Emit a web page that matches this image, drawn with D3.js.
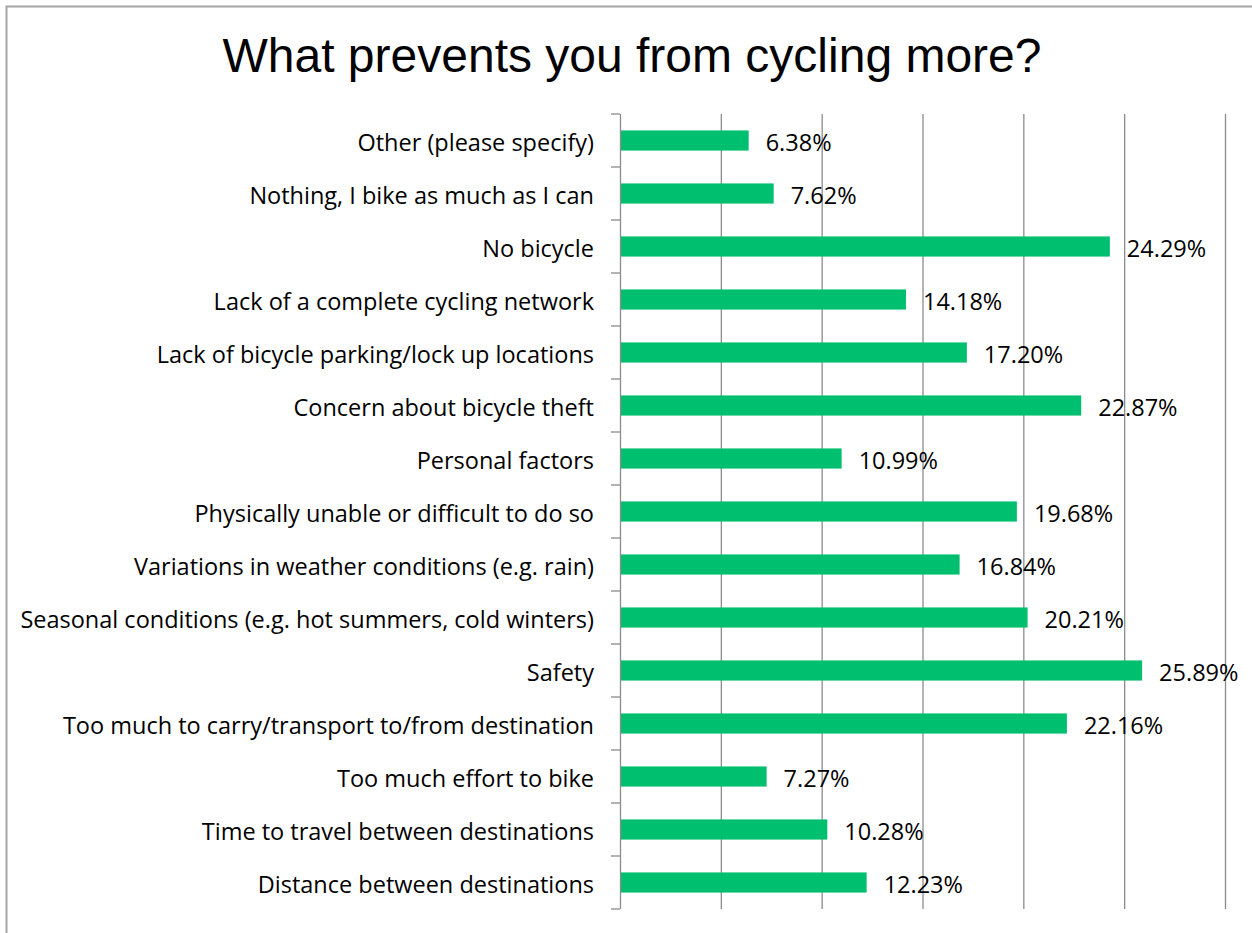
<!DOCTYPE html>
<html><head><meta charset="utf-8">
<script src="https://cdn.jsdelivr.net/npm/d3@7"></script>
<style>body{margin:0;background:#fff}svg{display:block}</style>
</head><body>
<svg id="chart" width="1252" height="933"></svg>
<script>
const categories = [
  "Other (please specify)",
  "Nothing, I bike as much as I can",
  "No bicycle",
  "Lack of a complete cycling network",
  "Lack of bicycle parking/lock up locations",
  "Concern about bicycle theft",
  "Personal factors",
  "Physically unable or difficult to do so",
  "Variations in weather conditions (e.g. rain)",
  "Seasonal conditions (e.g. hot summers, cold winters)",
  "Safety",
  "Too much to carry/transport to/from destination",
  "Too much effort to bike",
  "Time to travel between destinations",
  "Distance between destinations"
];
const values = [6.38, 7.62, 24.29, 14.18, 17.20, 22.87, 10.99, 19.68, 16.84, 20.21, 25.89, 22.16, 7.27, 10.28, 12.23];
const xTicks = [0, 5, 10, 15, 20, 25, 30];
const title = "What prevents you from cycling more?";

const svg = d3.select("#chart");
const labelFont = "'Open Sans', Lato, 'Liberation Sans', sans-serif";
const labelSize = 23.5;

// chart border
svg.append("rect").attr("x", 6.5).attr("y", 6.5).attr("width", 1300).attr("height", 1000)
  .attr("fill", "none").attr("stroke", "#a6a6a6").attr("stroke-width", 2);

svg.append("text").attr("x", 632).attr("y", 72).attr("text-anchor", "middle")
  .attr("font-family", "'Liberation Sans', Arial, sans-serif").attr("font-size", 48)
  .attr("fill", "#000").text(title);

const x = d3.scaleLinear().domain([0, 30]).range([620, 1225]);
const y = d3.scaleBand().domain(categories).range([114, 909]).paddingInner(0.62).paddingOuter(0.31);
const plotTop = 114, plotBottom = 909;

// gridlines
svg.append("g").selectAll("line").data(xTicks.slice(1)).join("line")
  .attr("x1", d => x(d) + 0.5).attr("x2", d => x(d) + 0.5)
  .attr("y1", plotTop).attr("y2", plotBottom)
  .attr("stroke", "#8c8c8c").attr("stroke-width", 1.3);

// bars
svg.append("g").selectAll("rect").data(values).join("rect")
  .attr("x", x(0)).attr("y", (d, i) => y(categories[i]))
  .attr("width", d => x(d) - x(0)).attr("height", y.bandwidth())
  .attr("fill", "#00bf6f");

// y axis line and tick marks between categories
svg.append("line").attr("x1", x(0) + 0.5).attr("x2", x(0) + 0.5).attr("y1", plotTop).attr("y2", plotBottom)
  .attr("stroke", "#8c8c8c").attr("stroke-width", 1.3);
svg.append("g").selectAll("line").data(d3.range(categories.length + 1)).join("line")
  .attr("x1", x(0) - 9).attr("x2", x(0))
  .attr("y1", i => plotTop + i * (plotBottom - plotTop) / categories.length)
  .attr("y2", i => plotTop + i * (plotBottom - plotTop) / categories.length)
  .attr("stroke", "#8c8c8c").attr("stroke-width", 1.3);

// category labels
svg.append("g").selectAll("text").data(categories).join("text")
  .attr("x", 594).attr("y", d => y(d) + y.bandwidth() / 2 + 10.5)
  .attr("text-anchor", "end")
  .attr("font-family", labelFont).attr("font-size", labelSize).attr("fill", "#000")
  .text(d => d);

// value labels
svg.append("g").selectAll("text").data(values).join("text")
  .attr("x", d => x(d) + 17).attr("y", (d, i) => y(categories[i]) + y.bandwidth() / 2 + 10.5)
  .attr("font-family", labelFont).attr("font-size", labelSize).attr("fill", "#000")
  .text(d => d.toFixed(2) + "%");
</script>
</body></html>
